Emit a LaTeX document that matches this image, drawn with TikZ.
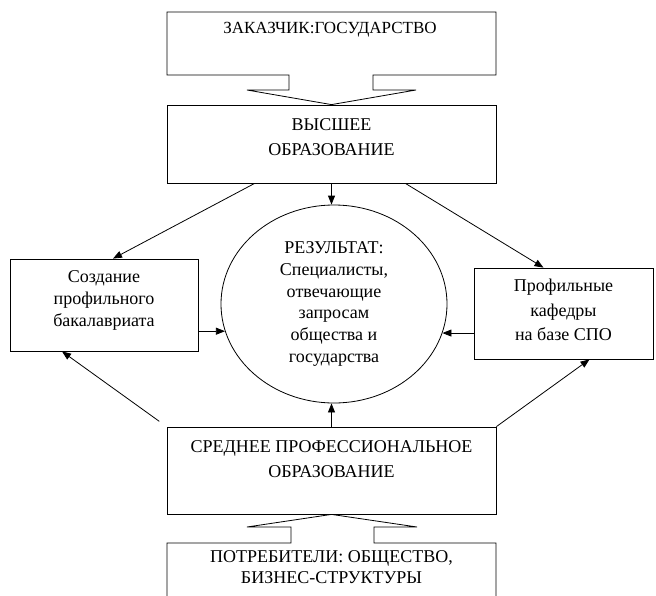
\documentclass[tikz,border=0pt]{standalone}
\usepackage{fontspec}
\setmainfont{Liberation Serif}
\usetikzlibrary{calc,arrows.meta,shapes.geometric}

\begin{document}
\begin{tikzpicture}[x=1pt,y=-1pt,line width=0.8pt,
  blok/.style={draw,inner sep=0pt},
  tekst/.style={align=center,inner sep=0pt,font=\fontsize{18}{22}\selectfont},
  strel/.style={-{Triangle[length=9pt,width=7pt]}}]
\clip (0,0) rectangle (656,595);
% boxes
\node[blok,minimum width=329,minimum height=78] (vyssh) at (331.5,144) {};
\node[blok,minimum width=188,minimum height=92] (sozd) at (104,305) {};
\node[blok,minimum width=179,minimum height=91] (kaf) at (563.5,313.5) {};
\node[blok,minimum width=329,minimum height=87] (sred) at (331.5,470.5) {};
\node[draw,ellipse,minimum width=226,minimum height=198,tekst,font=\fontsize{18}{21.8}\selectfont] (ell) at (334,304)
  {РЕЗУЛЬТАТ:\\Специалисты,\\отвечающие\\запросам\\общества и\\государства};
% callouts
\draw (289,75) -- (167,75) -- (167,12) -- (496,12) -- (496,75) -- (373,75) -- (373,90) -- (416,90)
  -- (vyssh.north) -- (247,90) -- (289,90) -- cycle;
\draw (291,527) -- (247,527) -- (sred.south) -- (417,527) -- (374,527) -- (374,543) -- (496,543)
  -- (496,600) -- (167,600) -- (167,543) -- (291,543) -- cycle;
% texts
\node[tekst,font=\fontsize{17}{22}\selectfont] (zakaz) at (330,30) {ЗАКАЗЧИК:ГОСУДАРСТВО};
\node[tekst,font=\fontsize{18}{25}\selectfont] (vysshtxt) at (331.5,137.5) {ВЫСШЕЕ\\ОБРАЗОВАНИЕ};
\node[tekst] (sozdtxt) at (104,300) {Создание\\профильного\\бакалавриата};
\node[tekst,font=\fontsize{18}{24.5}\selectfont] (kaftxt) at (563.5,310) {Профильные\\кафедры\\на базе СПО};
\node[tekst,font=\fontsize{18}{25}\selectfont] (sredtxt) at (331.5,459.5) {СРЕДНЕЕ ПРОФЕССИОНАЛЬНОЕ\\ОБРАЗОВАНИЕ};
\node[tekst,font=\fontsize{18}{21}\selectfont] (potreb) at (331.5,567.5) {ПОТРЕБИТЕЛИ: ОБЩЕСТВО,\\БИЗНЕС-СТРУКТУРЫ};
% arrows
\draw[strel] (vyssh.south) -- (vyssh.south |- ell.north);
\draw[strel] ($(vyssh.south west)+(88,0)$) -- ($(sozd.north)+(9,0)$);
\draw[strel] ($(vyssh.south east)+(-91,0)$) -- ($(kaf.north)+(-20,0)$);
\draw[strel] (sozd.east |- ell.194) -- (ell.194);
\draw[strel] (kaf.west |- ell.345) -- (ell.345);
\draw[strel,shorten <=9pt] (sred.north west) -- ($(sozd.south)+(-42,0)$);
\draw[strel] (sred.north east) -- ($(kaf.south)+(26,0)$);
\draw[strel] (sred.north) -- (sred.north |- ell.south);
\end{tikzpicture}
\end{document}
